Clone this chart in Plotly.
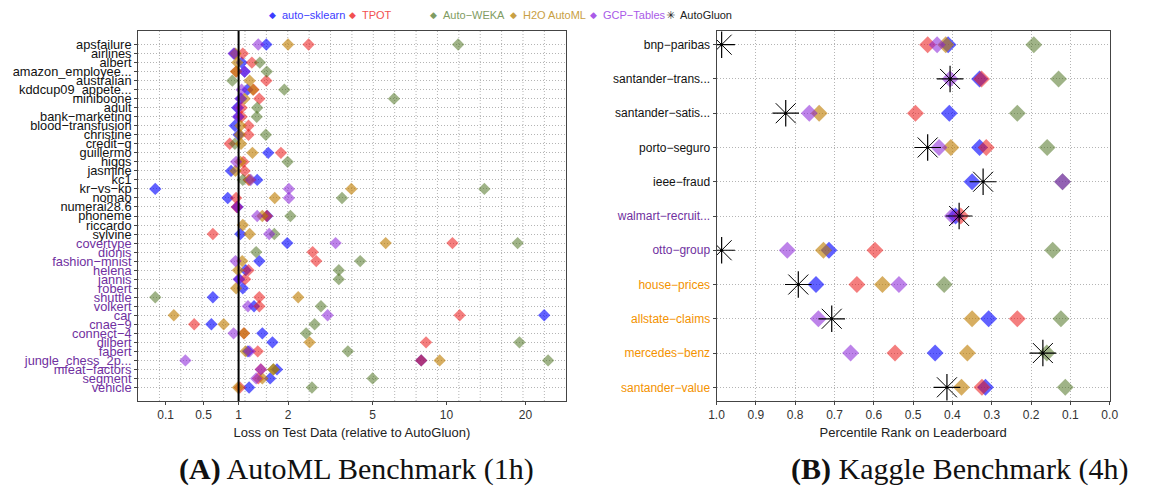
import plotly.graph_objects as go

# ---------------- data ----------------
automl_datasets = [
    "apsfailure", "airlines", "albert", "amazon_employee...", "australian",
    "kddcup09_appete...", "miniboone", "adult", "bank−marketing", "blood−transfusion",
    "christine", "credit−g", "guillermo", "higgs", "jasmine", "kc1", "kr−vs−kp", "nomao",
    "numerai28.6", "phoneme", "riccardo", "sylvine",
    "covertype", "dionis", "fashion−mnist", "helena", "jannis", "robert", "shuttle",
    "volkert", "car", "cnae−9", "connect−4", "dilbert", "fabert", "jungle_chess_2p...",
    "mfeat−factors", "segment", "vehicle",
]
automl_task = ["binary"] * 22 + ["multiclass"] * 17

# loss on test data relative to AutoGluon (None = no result)
automl_autosklearn = [1.51, 0.93, 1.05, 1.10, None, 1.15, 1.04, 0.98, 1.00, 0.94, 1.00, None, 1.55,
                      None, 0.88, 1.33, 0.01, 0.83, 0.98, 1.53, None, 1.03, 1.98, None, 1.37, 1.12,
                      1.01, 1.07, 0.62, 1.27, 23.5, 0.60, 1.43, 1.64, 1.16, 7.94, 1.74, 1.59, 1.18]
automl_tpot = [2.55, 1.07, 1.23, 0.96, 1.51, 1.26, 1.37, 1.05, 1.05, 1.17, 1.17, 0.86, 1.83,
               1.08, 1.10, 1.17, None, 0.96, 0.97, 1.52, None, 0.62, 10.55, 2.67, 2.78, 1.17,
               1.11, None, 1.37, 1.37, 11.25, 0.39, 1.09, 8.3, 1.34, 7.94, 1.40, 1.35, 1.02]
automl_autoweka = [11.1, None, 1.38, 1.52, 0.90, 1.91, 6.15, 1.33, 1.32, None, 1.50, 0.94, None,
                   1.99, None, 1.07, 14.0, 3.67, None, 2.06, None, 1.68, 18.7, 1.31, 4.42, 3.55,
                   3.55, None, 0.01, 2.93, None, 2.73, 2.48, 19.0, 3.9, 24.3, 1.66, 5.0, 2.65]
automl_h2o = [2.0, 0.95, 0.98, 0.96, 1.19, 1.25, 1.10, None, None, 1.03, 1.02, 1.04, 1.24,
              1.03, 0.95, 1.19, 4.04, 1.69, None, 1.43, 1.07, 1.19, 5.68, None, 1.06, 0.99,
              None, 0.96, 2.26, None, 0.176, 0.77, 1.09, 2.58, 1.12, 9.4, 1.66, 1.43, 0.99]
automl_gcp = [1.35, 0.92, None, 1.10, None, 1.05, 1.03, 0.99, 0.99, None, None, None, None,
              0.96, None, 1.21, 2.02, 2.02, 0.98, 1.33, None, 1.57, 3.43, None, 0.95, None,
              1.00, None, None, 1.16, 3.15, None, 0.92, None, 1.19, 0.293, 1.40, 1.31, None]
automl_autogluon_ref = 1.0

automl_tickvals = [0.1, 0.5, 1, 2, 5, 10, 20]
automl_ticklabels = ["0.1", "0.5", "1", "2", "5", "10", "20"]

kaggle_comps = ["bnp−paribas", "santander−trans...", "santander−satis...", "porto−seguro",
                "ieee−fraud", "walmart−recruit...", "otto−group", "house−prices",
                "allstate−claims", "mercedes−benz", "santander−value"]
kaggle_task = ["binary"] * 5 + ["multiclass"] * 2 + ["regression"] * 4

# percentile rank on leaderboard
kaggle_autosklearn = [0.411, 0.331, 0.408, 0.331, 0.350, 0.392, 0.714, 0.747, 0.308, 0.444, 0.316]
kaggle_tpot = [0.463, 0.326, 0.494, 0.314, None, 0.379, 0.597, 0.643, 0.235, 0.546, 0.325]
kaggle_autoweka = [0.193, 0.130, 0.235, 0.159, 0.120, None, 0.145, 0.421, 0.124, 0.160, 0.113]
kaggle_h2o = [0.417, None, 0.739, 0.404, None, None, 0.728, 0.578, 0.350, 0.362, 0.377]
kaggle_gcp = [0.439, 0.406, 0.764, 0.434, 0.120, 0.400, 0.820, 0.536, 0.741, 0.659, None]
kaggle_autogluon = [0.987, 0.406, 0.824, 0.463, 0.322, 0.383, 0.987, 0.792, 0.707, 0.170, 0.414]

kaggle_ticks = [1.0, 0.9, 0.8, 0.7, 0.6, 0.5, 0.4, 0.3, 0.2, 0.1, 0.0]

legend_names = ["auto−sklearn", "TPOT", "Auto−WEKA", "H2O AutoML", "GCP−Tables", "AutoGluon"]

# ---------------- style ----------------
FONT = "Liberation Sans, Arial, sans-serif"
task_color = {"binary": "#111111", "multiclass": "#7030a0", "regression": "#f39200"}
marker_colors = ["rgba(0,0,255,0.62)", "rgba(235,20,20,0.55)", "rgba(70,110,25,0.52)",
                 "rgba(190,125,0,0.62)", "rgba(135,30,215,0.55)"]
legend_text_colors = ["#3c3cff", "#f25050", "#7f9c62", "#c9a043", "#a95ae8", "#222222"]
legend_symbols = ["◆", "◆", "◆", "◆", "◆", "✳"]
legend_symbol_px = [268, 350, 432, 513, 594, 672]
legend_text_px = [277, 358, 440, 522, 603, 681]

W, H = 1167, 493
left_dom = [132 / W, 566 / W]
right_dom = [719 / W, 1118 / W]
y_dom = [1 - 401 / H, 1 - 31 / H]

automl_series = [automl_autosklearn, automl_tpot, automl_autoweka, automl_h2o, automl_gcp]
kaggle_series = [kaggle_autosklearn, kaggle_tpot, kaggle_autoweka, kaggle_h2o, kaggle_gcp]


def shift(vals):
    # loss axis is drawn on a log(1 + loss) scale
    return [None if v is None else v + 1 for v in vals]


fig = go.Figure()

for name, a_vals, k_vals, mcol in zip(legend_names, automl_series, kaggle_series, marker_colors):
    fig.add_trace(go.Scatter(
        x=shift(a_vals), y=automl_datasets, mode="markers", xaxis="x", yaxis="y",
        marker=dict(symbol="diamond", size=9.5, color=mcol, line=dict(width=0)),
        showlegend=False, name=name))
    fig.add_trace(go.Scatter(
        x=k_vals, y=kaggle_comps, mode="markers", xaxis="x2", yaxis="y2",
        marker=dict(symbol="diamond", size=13, color=mcol, line=dict(width=0)),
        showlegend=False, name=name))

# AutoGluon asterisks (x + cross + centre dot)
fig.add_trace(go.Scatter(
    x=kaggle_autogluon, y=kaggle_comps, mode="markers", xaxis="x2", yaxis="y2",
    marker=dict(symbol="x-thin-open", size=20, color="black", line=dict(width=1, color="black")),
    showlegend=False, name="AutoGluon"))
fig.add_trace(go.Scatter(
    x=kaggle_autogluon, y=kaggle_comps, mode="markers", xaxis="x2", yaxis="y2",
    marker=dict(symbol="cross-thin-open", size=19, color="black", line=dict(width=1.2, color="black")),
    showlegend=False, name="AutoGluon"))
fig.add_trace(go.Scatter(
    x=kaggle_autogluon, y=kaggle_comps, mode="markers", xaxis="x2", yaxis="y2",
    marker=dict(symbol="circle", size=3, color="black"),
    showlegend=False, name="AutoGluon"))

# ---------------- layout ----------------
GRID = "#b4b4b4"
DOT = "1px,2px"
shapes = []
# evenly spaced dotted grid of the left panel
for k in range(1, 20):
    shapes.append(dict(type="line", xref="x domain", yref="y domain", x0=k / 20, x1=k / 20,
                       y0=0, y1=1, line=dict(color=GRID, width=1, dash=DOT), layer="below"))
# AutoGluon reference line
shapes.append(dict(type="line", xref="x", yref="y domain",
                   x0=automl_autogluon_ref + 1, x1=automl_autogluon_ref + 1, y0=0, y1=1,
                   line=dict(color="black", width=2), layer="above"))

axis_common = dict(showline=True, mirror=True, linecolor="#444", linewidth=1,
                   ticks="outside", ticklen=3, tickcolor="#444", zeroline=False)

annotations = []
# legend row along the top
for sym, name, tcol, sx, tx in zip(legend_symbols, legend_names, legend_text_colors,
                                   legend_symbol_px, legend_text_px):
    annotations.append(dict(text=sym, xref="paper", yref="paper", x=sx / W, y=1 - 15 / H,
                            xanchor="center", yanchor="middle", showarrow=False,
                            font=dict(family="DejaVu Sans", size=9 if sym == "◆" else 11,
                                      color=tcol), borderpad=0))
    annotations.append(dict(text=name, xref="paper", yref="paper", x=tx / W, y=1 - 15 / H,
                            xanchor="left", yanchor="middle", showarrow=False,
                            font=dict(family=FONT, size=11, color=tcol), borderpad=0))
# sub-figure captions
for txt, cx in [("<b>(A)</b> AutoML Benchmark (1h)", 354),
                ("<b>(B)</b> Kaggle Benchmark (4h)", 966)]:
    annotations.append(dict(text=txt, xref="paper", yref="paper",
                            x=cx / W, y=1 - 469 / H, xanchor="center", yanchor="middle",
                            showarrow=False,
                            font=dict(family="Liberation Serif, serif", size=30, color="#111")))

fig.update_layout(
    width=W, height=H,
    margin=dict(l=0, r=0, t=0, b=0),
    paper_bgcolor="white", plot_bgcolor="white",
    font=dict(family=FONT, color="#222"),
    showlegend=False,
    xaxis=dict(domain=left_dom, anchor="y", type="log",
               range=[-0.05686, 1.46594],
               tickvals=shift(automl_tickvals), ticktext=automl_ticklabels,
               showgrid=False, tickfont=dict(size=12, color="#333"),
               title=dict(text="Loss on Test Data (relative to AutoGluon)",
                          font=dict(size=13, color="#222"), standoff=6),
               **axis_common),
    yaxis=dict(domain=y_dom, anchor="x", type="category",
               categoryorder="array", categoryarray=automl_datasets,
               range=[len(automl_datasets) + 0.5, -1.5],
               tickvals=automl_datasets,
               ticktext=[f"<span style='color:{task_color[t]}'>{n}</span>"
                         for n, t in zip(automl_datasets, automl_task)],
               showgrid=True, gridcolor=GRID, griddash=DOT, gridwidth=1,
               tickfont=dict(size=12.8),
               **axis_common),
    xaxis2=dict(domain=right_dom, anchor="y2", range=[1.0, 0.0],
                tickvals=kaggle_ticks, tickformat=".1f",
                showgrid=True, gridcolor=GRID, griddash=DOT, gridwidth=1,
                tickfont=dict(size=12, color="#333"),
                title=dict(text="Percentile Rank on Leaderboard",
                           font=dict(size=13, color="#222"), standoff=6),
                **axis_common),
    yaxis2=dict(domain=y_dom, anchor="x2", type="category",
                categoryorder="array", categoryarray=kaggle_comps,
                range=[len(kaggle_comps) - 0.6, -0.4],
                tickvals=kaggle_comps,
                ticktext=[f"<span style='color:{task_color[t]}'>{n}</span>"
                          for n, t in zip(kaggle_comps, kaggle_task)],
                showgrid=True, gridcolor=GRID, griddash=DOT, gridwidth=1,
                tickfont=dict(size=12),
                **axis_common),
    shapes=shapes,
    annotations=annotations,
)

fig.write_html("out.html")
